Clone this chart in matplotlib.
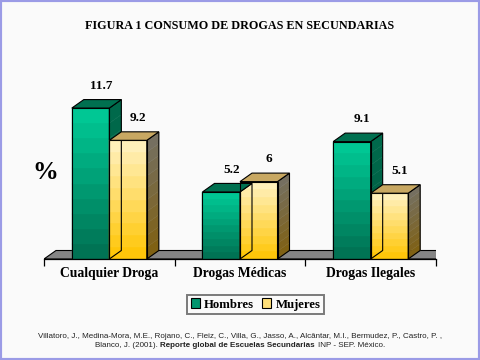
import numpy as np
import matplotlib
matplotlib.use('Agg')
import matplotlib.pyplot as plt
from matplotlib.patches import Polygon, Rectangle
from matplotlib.colors import to_rgb

# datos
categorias = ['Cualquier Droga', 'Drogas Médicas', 'Drogas Ilegales']
hombres = [11.7, 5.2, 9.1]
mujeres = [9.2, 6, 5.1]
series = ['Hombres', 'Mujeres']
titulo = 'FIGURA 1 CONSUMO DE DROGAS EN SECUNDARIAS'
cita1 = ('Villatoro, J., Medina-Mora, M.E., Rojano, C., Fleiz, C., Villa, G., Jasso, A., '
         'Alcântar, M.I., Bermudez, P., Castro, P. ,')
cita2 = ['Blanco, J. (2001).', 'Reporte global de Escuelas Secundarias', 'INP - SEP. México.']

plt.rcParams['font.family'] = 'Liberation Serif'

W, H = 480, 360
fig = plt.figure(figsize=(4.8, 3.6), dpi=100, facecolor='#fafafa')

# area del grafico en pixeles
x0, x1 = 44, 436
y_base = 259
ppu = 12.9  # pixeles por unidad
ymax = 14
ax = fig.add_axes([x0 / W, 1 - y_base / H, (x1 - x0) / W, ymax * ppu / H])
ax.set_xlim(-0.5, 2.5)
ax.set_ylim(0, ymax)
ax.patch.set_visible(False)
for s in ['left', 'right', 'top']:
    ax.spines[s].set_visible(False)
ax.spines['bottom'].set_linewidth(0.9)

dx = 12 / ((x1 - x0) / 3.0)
dy = 8.5 / ppu
bw = 0.287


def mix(a, b, t):
    a, b = np.array(to_rgb(a)), np.array(to_rgb(b))
    return tuple(a + (b - a) * t)


# piso gris
piso = Polygon([(-0.5, 0), (2.5, 0), (2.5 + dx, dy), (-0.5 + dx, dy)],
               closed=True, fc='#858585', ec='black', lw=0.8, zorder=1)
ax.add_patch(piso)


def barra3d(xl, val, f_top, f_bot, s_top, s_bot, top_col, n=10):
    xr = xl + bw
    for k in range(n):
        ya, yb = val * k / n, val * (k + 1) / n
        t = (k + 0.5) / n
        c = mix(f_bot, f_top, t)
        ax.add_patch(Rectangle((xl, ya), bw, yb - ya, fc=c, ec=c, lw=0.3, zorder=2))
        cs = mix(s_bot, s_top, t)
        ax.add_patch(Polygon([(xr, ya), (xr + dx, ya + dy), (xr + dx, yb + dy), (xr, yb)],
                             closed=True, fc=cs, ec=cs, lw=0.3, zorder=2))
    ax.add_patch(Rectangle((xl, 0), bw, val, fill=False, ec='black', lw=0.8, zorder=3))
    ax.add_patch(Polygon([(xr, 0), (xr + dx, dy), (xr + dx, val + dy), (xr, val)],
                         closed=True, fill=False, ec='black', lw=0.8, zorder=3))
    ax.add_patch(Polygon([(xl, val), (xr, val), (xr + dx, val + dy), (xl + dx, val + dy)],
                         closed=True, fc=top_col, ec='black', lw=0.8, zorder=3))
    ax.annotate(f'{val:g}', xy=(xl + bw / 2 + dx * 0.85, val + dy), xytext=(0, 5.5),
                textcoords='offset points', ha='center', va='bottom',
                fontsize=9.5, fontweight='bold')


for i in range(len(categorias)):
    barra3d(i - bw, hombres[i], '#00cc98', '#006e50', '#006a4c', '#005a3e', '#007050')
    barra3d(i, mujeres[i], '#fff2c4', '#ffc400', '#747064', '#806010', '#c8a862')

ax.set_xticks(range(len(categorias)))
ax.set_xticklabels(categorias, fontsize=9.8, fontweight='bold')
ax.set_xticks(np.arange(-0.5, 3, 1), minor=True)
ax.tick_params(axis='x', which='major', length=0, pad=6)
ax.tick_params(axis='x', which='minor', length=5, width=0.9, direction='out')
ax.set_yticks([])

# textos
fig.text(0.5, 1 - 26 / H, titulo, ha='center', va='center', fontsize=8.7, fontweight='bold')
fig.text(45 / W, 1 - 172 / H, '%', ha='center', va='center', fontsize=18.5, fontweight='bold')

# leyenda
colores_ley = ['#00956e', '#ffe07a']
handles = [Rectangle((0, 0), 1, 1, fc=c, ec='black', lw=0.8) for c in colores_ley]
leg = fig.legend(handles, series, loc='center', bbox_to_anchor=(255.5 / W, 1 - 304.5 / H),
                 ncol=2, frameon=True, fancybox=False, edgecolor='#5a5a5a', facecolor='#fafafa',
                 prop=dict(family='Liberation Serif', weight='bold', size=9.2),
                 handlelength=0.75, handleheight=0.75, handletextpad=0.3,
                 columnspacing=0.6, borderpad=0.3, borderaxespad=0)
leg.get_frame().set_linewidth(1.4)

# cita
fig.text(0.5, 1 - 336 / H, cita1, ha='center', va='center', family='Liberation Sans',
         fontsize=5.8, color='#222222')
fig.canvas.draw()
r = fig.canvas.get_renderer()
pesos = ['normal', 'bold', 'normal']
txts = [fig.text(0, 1 - 345.5 / H, s, ha='left', va='center', family='Liberation Sans',
                 fontsize=5.8, fontweight=w, color='#222222') for s, w in zip(cita2, pesos)]
anchos = [t.get_window_extent(r).width for t in txts]
gap = 2.5
xpos = W / 2 - (sum(anchos) + gap * (len(anchos) - 1)) / 2
for t, a in zip(txts, anchos):
    t.set_x(xpos / W)
    xpos += a + gap

# borde
fig.add_artist(Rectangle((0, 0), 1, 1, transform=fig.transFigure, fill=False,
                         ec='#9b9be6', lw=3))

fig.savefig('out.png', dpi=100, facecolor=fig.get_facecolor())
